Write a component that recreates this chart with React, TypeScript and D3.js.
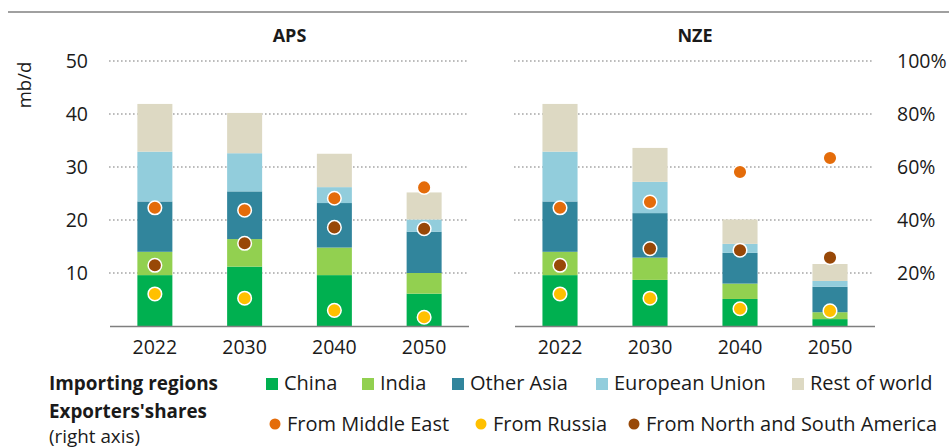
import React from "react";
import * as d3 from "d3";

// import volumes, mb/d
const years = ["2022", "2030", "2040", "2050"];
const regions = ["China", "India", "Other Asia", "European Union", "Rest of world"];

const apsChina = [9.6, 11.2, 9.6, 6.1];
const apsIndia = [4.4, 5.2, 5.2, 3.9];
const apsOtherAsia = [9.5, 9.0, 8.4, 7.8];
const apsEU = [9.4, 7.2, 3.0, 2.3];
const apsRest = [9.0, 7.6, 6.3, 5.1];

const nzeChina = [9.6, 8.7, 5.1, 1.3];
const nzeIndia = [4.4, 4.2, 2.9, 1.3];
const nzeOtherAsia = [9.5, 8.4, 5.8, 4.8];
const nzeEU = [9.4, 5.9, 1.7, 1.1];
const nzeRest = [9.0, 6.4, 4.6, 3.2];

// exporters' shares (right axis)
const exporters = ["From Middle East", "From Russia", "From North and South America"];
const apsMiddleEast = [0.446, 0.437, 0.482, 0.523];
const apsRussia = [0.121, 0.105, 0.059, 0.033];
const apsAmericas = [0.229, 0.312, 0.372, 0.367];
const nzeMiddleEast = [0.446, 0.468, 0.581, 0.634];
const nzeRussia = [0.121, 0.105, 0.065, 0.057];
const nzeAmericas = [0.229, 0.292, 0.286, 0.258];

const leftTicks = [10, 20, 30, 40, 50];
const rightTicks = [0.2, 0.4, 0.6, 0.8, 1.0];

const regionColors = ["#00b050", "#92d050", "#31859c", "#92cddc", "#ddd9c3"];
const exporterColors = ["#e46c0a", "#ffc000", "#984807"];

const font = "'Open Sans', Lato, sans-serif";
const textColor = "#1a1a1a";

const top = 61, bottom = 326;
const yLeft = d3.scaleLinear().domain([0, 50]).range([bottom, top]);
const yRight = d3.scaleLinear().domain([0, 1]).range([bottom, top]);

function buildRows(cols: number[][]) {
  return years.map((y, i) => {
    const row: any = { year: y };
    regions.forEach((r, k) => (row[r] = cols[k][i]));
    return row;
  });
}

function Panel(props: any) {
  const { title, x0, x1, cols, shares } = props;
  const x = d3.scaleBand()
    .domain(years)
    .range([x0, x1])
    .paddingInner(0.61)
    .paddingOuter(0.305);

  const series = d3.stack().keys(regions)(buildRows(cols));

  return (
    <g>
      <text x={(x0 + x1) / 2} y={42} textAnchor="middle" fontWeight="bold" fontSize={18} fill={textColor}>{title}</text>
      {leftTicks.map(t => (
        <line key={t} x1={x0 - 1} x2={x1 - 2} y1={yLeft(t)} y2={yLeft(t)}
          stroke="#a6a6a6" strokeWidth={1.6} strokeDasharray="1.6 2.4" />
      ))}
      {series.map((s, k) => s.map((d: any, i) => (
        <rect key={k + "-" + i}
          x={x(years[i])}
          width={x.bandwidth()}
          y={yLeft(d[1])}
          height={yLeft(d[0]) - yLeft(d[1])}
          fill={regionColors[k]} />
      )))}
      <line x1={x0} x2={x1} y1={bottom + 0.5} y2={bottom + 0.5} stroke="#7f7f7f" strokeWidth={1.5} />
      {years.map(y => (
        <text key={y} x={x(y)! + x.bandwidth() / 2} y={354} textAnchor="middle" fontSize={19.5} fill={textColor}>{y}</text>
      ))}
      {shares.map((vals: number[], k: number) => vals.map((v, i) => (
        <circle key={k + "-" + i}
          cx={x(years[i])! + x.bandwidth() / 2}
          cy={yRight(v)}
          r={6.8}
          fill={exporterColors[k]}
          stroke="#fff"
          strokeWidth={1.5} />
      )))}
    </g>
  );
}

const squareX = [266, 362, 452, 596, 792];
const dotX = [275, 481, 634];

export default function App() {
  return (
    <svg width={949} height={447} style={{ position: "absolute", left: 0, top: 0, fontFamily: font }}>
      <rect width={949} height={447} fill="#fff" />
      <line x1={8} x2={949} y1={12} y2={12} stroke="#a0a0a0" strokeWidth={2} />

      <text transform="translate(31,85) rotate(-90)" textAnchor="middle" fontSize={18.5} fill={textColor}>mb/d</text>
      {leftTicks.map(t => (
        <text key={t} x={88} y={yLeft(t)} dy="0.36em" textAnchor="end" fontSize={19.5} fill={textColor}>{t}</text>
      ))}
      {rightTicks.map(t => (
        <text key={t} x={897} y={yRight(t)} dy="0.36em" fontSize={19.5} fill={textColor}>{d3.format(".0%")(t)}</text>
      ))}

      <Panel title="APS" x0={110} x1={469}
        cols={[apsChina, apsIndia, apsOtherAsia, apsEU, apsRest]}
        shares={[apsMiddleEast, apsRussia, apsAmericas]} />
      <Panel title="NZE" x0={515} x1={875}
        cols={[nzeChina, nzeIndia, nzeOtherAsia, nzeEU, nzeRest]}
        shares={[nzeMiddleEast, nzeRussia, nzeAmericas]} />

      {/* legend */}
      <text x={49} y={390} fontWeight="bold" fontSize={19} fill={textColor} textLength={169} lengthAdjust="spacingAndGlyphs">Importing regions</text>
      <text x={49} y={418} fontWeight="bold" fontSize={19} fill={textColor} textLength={158} lengthAdjust="spacingAndGlyphs">Exporters'shares</text>
      <text x={49} y={443} fontSize={17.5} fill={textColor} textLength={91} lengthAdjust="spacingAndGlyphs">(right axis)</text>
      {regions.map((r, k) => (
        <g key={r}>
          <rect x={squareX[k]} y={378} width={12} height={12} fill={regionColors[k]} />
          <text x={squareX[k] + 18} y={390} fontSize={20} fill={textColor}>{r}</text>
        </g>
      ))}
      {exporters.map((e, k) => (
        <g key={e}>
          <circle cx={dotX[k]} cy={424} r={5.5} fill={exporterColors[k]} />
          <text x={dotX[k] + 12} y={431} fontSize={20} fill={textColor}>{e}</text>
        </g>
      ))}
    </svg>
  );
}
